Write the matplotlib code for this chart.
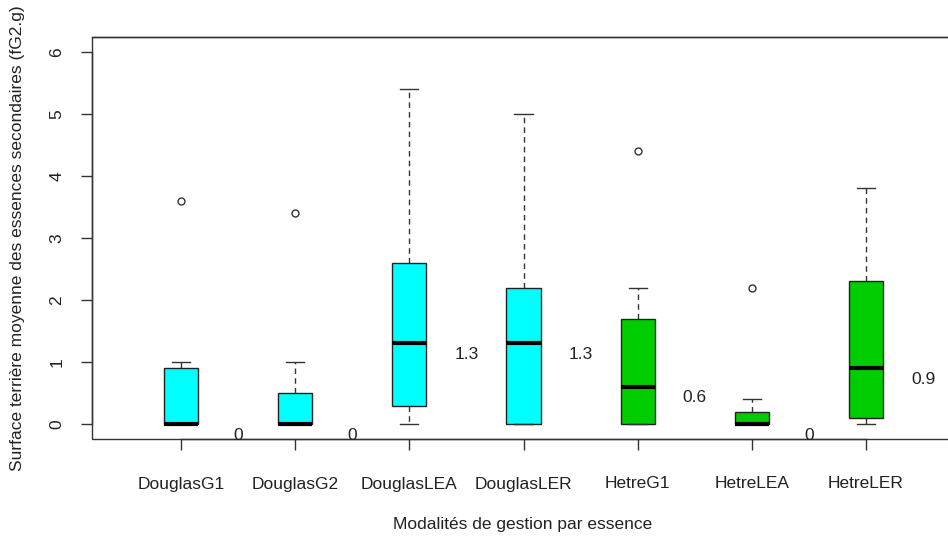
import matplotlib
matplotlib.use("Agg")
import matplotlib.pyplot as plt
from matplotlib.patches import Rectangle
from matplotlib.transforms import offset_copy

categories = ["DouglasG1", "DouglasG2", "DouglasLEA", "DouglasLER", "HetreG1", "HetreLEA", "HetreLER"]
whislo = [0, 0, 0, 0, 0, 0, 0]
q1 = [0, 0, 0.3, 0, 0, 0, 0.1]
med = [0, 0, 1.3, 1.3, 0.6, 0, 0.9]
q3 = [0.9, 0.5, 2.6, 2.2, 1.7, 0.2, 2.3]
whishi = [1.0, 1.0, 5.4, 5.0, 2.2, 0.4, 3.8]
fliers = [[3.6], [3.4], [], [], [4.4], [2.2], []]
colors = ["#00FFFF"] * 4 + ["#00CD00"] * 3
median_labels = ["0", "0", "1.3", "1.3", "0.6", "0", "0.9"]

plt.rcParams['font.family'] = ['Liberation Sans', 'DejaVu Sans']

fig = plt.figure(figsize=(9.48, 5.37), dpi=100)
W, H = 948, 537
left, right, top, bottom = 92, 955, 37, 439
ax = fig.add_axes([left / W, 1 - bottom / H, (right - left) / W, (bottom - top) / H])

stats = []
for i in range(len(categories)):
    stats.append(dict(whislo=whislo[i], q1=q1[i], med=med[i], q3=q3[i],
                      whishi=whishi[i], fliers=fliers[i], label=categories[i]))

positions = list(range(1, len(categories) + 1))
bp = ax.bxp(stats, positions=positions, widths=0.3, patch_artist=True,
            showcaps=True,
            boxprops=dict(edgecolor="#222222", linewidth=1.0),
            medianprops=dict(color="black", linewidth=3, solid_capstyle="butt"),
            whiskerprops=dict(color="#333333", linestyle=(0, (4, 3)), linewidth=1.0),
            capprops=dict(color="#333333", linewidth=1.0),
            flierprops=dict(marker="o", markerfacecolor="none", markeredgecolor="#333333",
                            markersize=5, markeredgewidth=1.0))
for cap in bp['caps']:
    xd = cap.get_xdata()
    c = (xd[0] + xd[1]) / 2
    cap.set_xdata([c - 0.08, c + 0.08])
for patch, col in zip(bp['boxes'], colors):
    patch.set_facecolor(col)

txt_trans = offset_copy(ax.transData, fig=fig, x=0, y=-11, units="dots")
for p, m, lab in zip(positions, med, median_labels):
    ax.text(p + 0.5, m, lab, ha="center", va="center", fontsize=12.5, color="#222222",
            transform=txt_trans)

ax.set_xlim(0.22, 7.78)
ax.set_ylim(-0.24, 6.24)
ax.set_yticks(range(0, 7))
ax.set_yticklabels([str(v) for v in range(0, 7)], rotation=90, va="center", fontsize=12.5, color="#222222")
ax.set_xticks(positions)
ax.set_xticklabels(categories, fontsize=12.5, color="#222222")
ax.tick_params(axis="both", direction="out", length=8, width=1.0, color="#333333")
ax.tick_params(axis="x", pad=19)
ax.tick_params(axis="y", pad=12)
ax.spines["left"].set_bounds(0, 6)
ax.spines["bottom"].set_bounds(1, 7)
for s in ax.spines.values():
    s.set_color("#333333")
    s.set_linewidth(1.0)

ax.add_patch(Rectangle((0, 0), 1, 1, transform=ax.transAxes, fill=False,
                       edgecolor="#333333", linewidth=1.0, clip_on=False))

fig.text(18 / W, 1 - 238 / H, "Surface terrière moyenne des essences secondaires (fG2.g)",
         rotation=90, ha="center", va="center", fontsize=12.5, color="#222222")
fig.text(523 / W, 1 - 524 / H, "Modalités de gestion par essence",
         ha="center", va="center", fontsize=12.5, color="#222222")

fig.savefig("out.png", dpi=100)
